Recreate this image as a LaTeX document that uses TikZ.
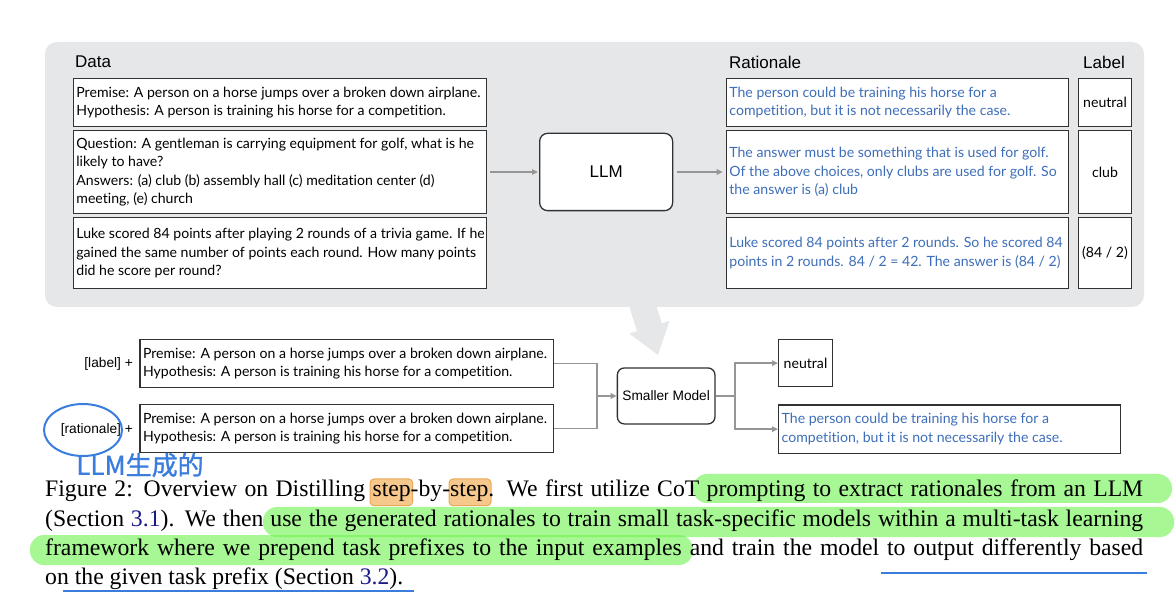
\documentclass[tikz,border=0pt]{standalone}
\usepackage{fontspec}
\setmainfont{Liberation Serif}
\newfontfamily\hv{Liberation Sans}
\newfontfamily\av{Lato}[Ligatures=NoCommon]
\newfontfamily\cjk{Noto Sans CJK SC}[FakeBold=1.2]
\usetikzlibrary{arrows.meta}
\definecolor{panel}{RGB}{230,231,233}
\definecolor{bord}{RGB}{50,50,50}
\definecolor{ratc}{RGB}{62,110,185}
\definecolor{connc}{RGB}{150,150,150}
\definecolor{hlg}{RGB}{114,243,83}
\definecolor{hlo}{RGB}{247,200,140}
\definecolor{hlob}{RGB}{232,168,85}
\definecolor{pen}{RGB}{59,125,221}
\definecolor{linkc}{RGB}{25,25,135}
\begin{document}
\begin{tikzpicture}[x=1pt,y=-1pt,
  box/.style={draw=bord,line width=1.3pt,fill=white,inner sep=0pt,anchor=north west},
  rbox/.style={box,rounded corners=8pt},
  txt/.style={inner xsep=3.5pt,inner ysep=0pt,align=left,anchor=west,font=\av\fontsize{14.1}{18.5}\selectfont},
  rtxt/.style={txt,text=ratc},
  ltxt/.style={inner sep=0pt,font=\av\fontsize{14.1}{18.5}\selectfont},
  hdr/.style={font=\hv\fontsize{17}{20}\selectfont,inner sep=0pt},
  smalltxt/.style={font=\hv\fontsize{13.7}{16}\selectfont,inner sep=0pt},
  cline/.style={draw=connc,line width=1.8pt},
  carrow/.style={draw=connc,line width=1.6pt,-{Triangle[length=6pt,width=5.5pt]}},
  captxt/.style={inner sep=0pt,anchor=base west,font=\fontsize{23.7}{29}\selectfont},
  hlgreen/.style={fill=hlg,opacity=0.62,rounded corners=14pt},
  hlorange/.style={fill=hlo,draw=hlob,line width=1pt,rounded corners=4pt}
]
\useasboundingbox (0,0) rectangle (1176,609);
\fill[white] (0,0) rectangle (1176,609);

% big gray arrow and panel
\fill[panel] (625.1,293.0) -- (637.0,331.2) -- (629.3,333.6) -- (658,355) -- (669.5,321.0) -- (661.8,323.4) -- (649.9,285.2) -- cycle;
\fill[panel,rounded corners=12pt] (45,42) rectangle (1144,307);

% headers
\node[hdr,anchor=west] (hdata) at (75,62) {Data};
\node[hdr,anchor=west] (hrat) at (729,62) {Rationale};
\node[hdr] (hlab) at (1104,62) {Label};

% data boxes
\node[box,minimum width=413,minimum height=48] (d1) at (72.7,78) {};
\node[txt] (d1t) at (d1.west) {Premise: A person on a horse jumps over a broken down airplane.\\Hypothesis: A person is training his horse for a competition.};
\node[box,minimum width=413,minimum height=82.7] (d2) at (72.7,130) {};
\node[txt] (d2t) at (d2.west) {Question: A gentleman is carrying equipment for golf, what is he\\likely to have?\\Answers: (a) club (b) assembly hall (c) meditation center (d)\\meeting, (e) church};
\node[box,minimum width=413,minimum height=71] (d3) at (72.7,217) {};
\node[txt] (d3t) at (d3.west) {Luke scored 84 points after playing 2 rounds of a trivia game. If he\\gained the same number of points each round. How many points\\did he score per round?};

% LLM
\node[rbox,minimum width=133,minimum height=77.3] (llm) at (539,132.7) {};
\node[hdr] (llmt) at (llm.center) {LLM};

% rationale boxes
\node[box,minimum width=342,minimum height=48] (r1) at (725.7,78) {};
\node[rtxt] (r1t) at (r1.west) {The person could be training his horse for a\\competition, but it is not necessarily the case.};
\node[box,minimum width=342,minimum height=82.7] (r2) at (725.7,130) {};
\node[rtxt] (r2t) at (r2.west) {The answer must be something that is used for golf.\\Of the above choices, only clubs are used for golf. So\\the answer is (a) club};
\node[box,minimum width=342,minimum height=71] (r3) at (725.7,217) {};
\node[rtxt] (r3t) at (r3.west) {Luke scored 84 points after 2 rounds. So he scored 84\\points in 2 rounds. 84 / 2 = 42. The answer is (84 / 2)};

% label boxes
\node[box,minimum width=53.3,minimum height=48] (l1) at (1077.7,78) {};
\node[ltxt] (l1t) at (l1.center) {neutral};
\node[box,minimum width=53.3,minimum height=82.7] (l2) at (1077.7,130) {};
\node[ltxt] (l2t) at (l2.center) {club};
\node[box,minimum width=53.3,minimum height=71] (l3) at (1077.7,217) {};
\node[ltxt] (l3t) at (l3.center) {(84 / 2)};

% top arrows
\draw[carrow,shorten <=3pt,shorten >=1pt] (d2.east) -- (llm.west);
\draw[carrow,shorten <=4pt,shorten >=3pt] (llm.east) -- (r2.west);

% lower section
\node[smalltxt,anchor=east] (pl) at (133,364) {[label] +};
\node[smalltxt,anchor=east] (pr) at (133,430) {[rationale] +};
\node[box,minimum width=413.2,minimum height=47.7] (i1) at (139.3,339) {};
\node[txt] (i1t) at (i1.west) {Premise: A person on a horse jumps over a broken down airplane.\\Hypothesis: A person is training his horse for a competition.};
\node[box,minimum width=413.2,minimum height=47.7] (i2) at (139.3,404) {};
\node[txt] (i2t) at (i2.west) {Premise: A person on a horse jumps over a broken down airplane.\\Hypothesis: A person is training his horse for a competition.};

\node[box,rounded corners=7pt,minimum width=97.6,minimum height=56] (sm) at (616.7,367.3) {};
\node[smalltxt] (smt) at (sm.center) {Smaller Model};

\node[box,minimum width=53.7,minimum height=47] (neu) at (778,339) {};
\node[ltxt] (neut) at (neu.center) {neutral};
\node[box,minimum width=342,minimum height=48.4] (ro) at (778,404.3) {};
\node[rtxt] (rot) at (ro.west) {The person could be training his horse for a\\competition, but it is not necessarily the case.};

\coordinate (jl) at ([xshift=-20pt]sm.west);
\coordinate (jr) at ([xshift=19pt]sm.east);
\draw[cline] (i1.east) -| (jl);
\draw[cline] (i2.east) -| (jl);
\draw[carrow,line width=1.8pt] (jl) -- (sm.west);
\draw[cline] (sm.east) -- (jr);
\draw[carrow,line width=1.8pt] (jr) |- (neu.west);
\draw[carrow,line width=1.8pt] (jr) |- (ro.west);

% annotations on figure
\draw[pen,line width=2pt] (83,430) ellipse [x radius=39, y radius=26];
\node[font=\cjk\fontsize{26}{26}\selectfont,text=pen,inner sep=0pt] (hw) at (140,465) {LLM生成的};

% caption highlights
\fill[hlgreen] (693,474) rectangle (1172,503);
\fill[hlgreen] (263,507) rectangle (1174,537);
\fill[hlgreen] (30,535) rectangle (693,565);
\filldraw[hlorange] (370,479) rectangle (412.7,505.7);
\filldraw[hlorange] (449,479) rectangle (491,505.7);

% caption
\node[captxt] (c1) at (45,496.7) {\makebox[1098pt][s]{Figure 2: Overview on Distilling step-by-step. We first utilize CoT prompting to extract rationales from an LLM}};
\node[captxt] (c2) at (45,526.2) {\makebox[1098pt][s]{(Section \textcolor{linkc}{3.1}). We then use the generated rationales to train small task-specific models within a multi-task learning}};
\node[captxt] (c3) at (45,555.7) {\makebox[1098pt][s]{framework where we prepend task prefixes to the input examples and train the model to output differently based}};
\node[captxt] (c4) at (45,584.5) {on the given task prefix (Section \textcolor{linkc}{3.2}).};

\draw[pen,line width=2pt] (881,572.7) -- (1146.7,572.7);
\draw[pen,line width=2pt] (63,590.7) -- (414,590.7);
\end{tikzpicture}
\end{document}
